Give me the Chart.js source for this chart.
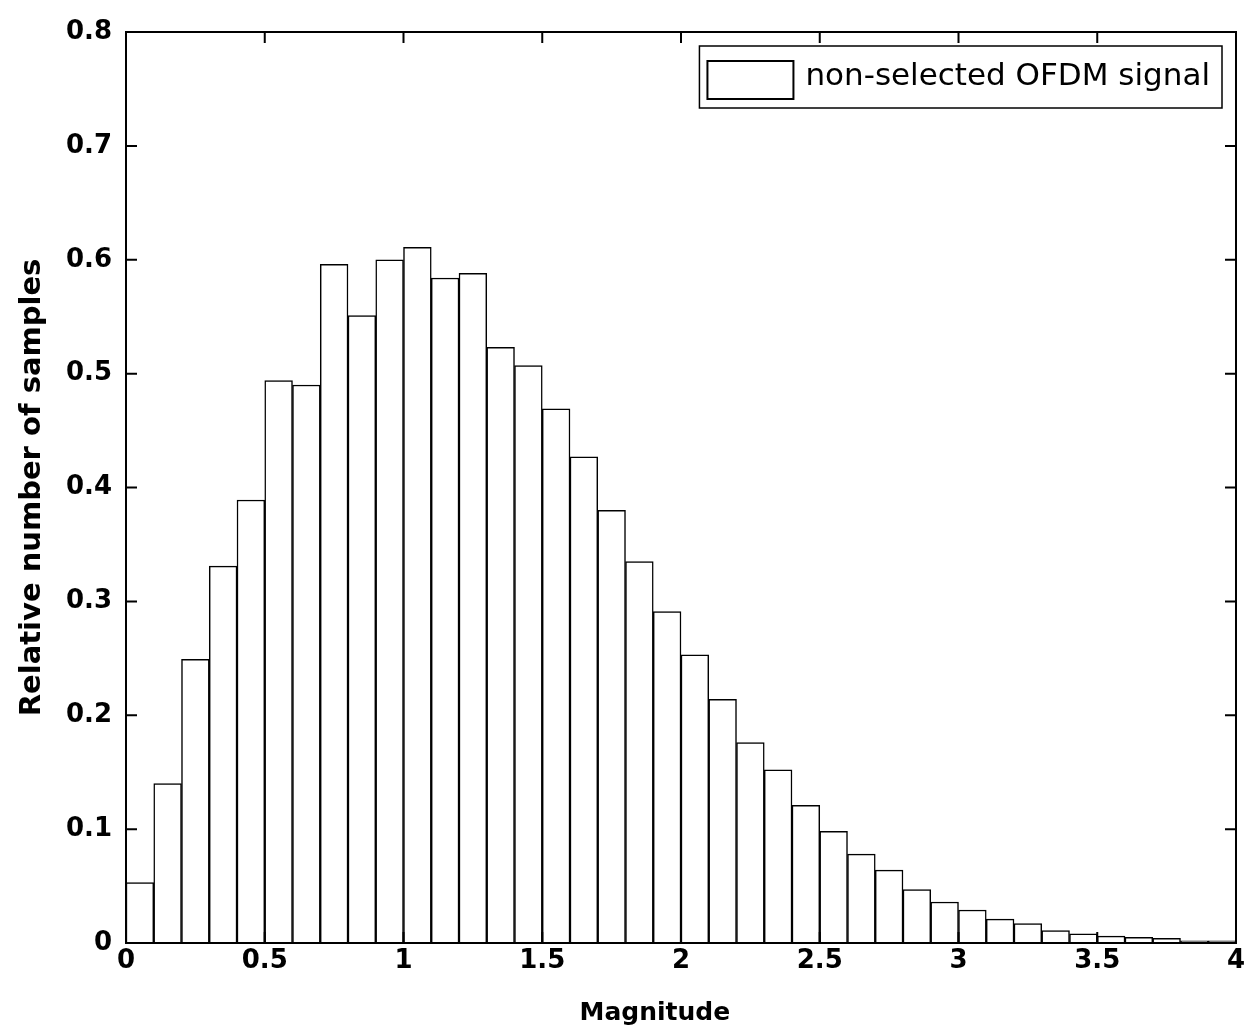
<!DOCTYPE html>
<html>
<head>
<meta charset="utf-8">
<script src="https://cdn.jsdelivr.net/npm/chart.js@4/dist/chart.umd.min.js"></script>
<style>
  html, body { margin: 0; padding: 0; background: #fff; }
  #wrap { width: 1250px; height: 1036px; }
</style>
</head>
<body>
<div id="wrap"><canvas id="histChart" width="1250" height="1036"></canvas></div>
<script>
// histogram of |x| for the non-selected OFDM signal, bin width 0.1
const binCenters = [
    0.05, 0.15, 0.25, 0.35, 0.45, 0.55, 0.65, 0.75, 0.85, 0.95,
    1.05, 1.15, 1.25, 1.35, 1.45, 1.55, 1.65, 1.75, 1.85, 1.95,
    2.05, 2.15, 2.25, 2.35, 2.45, 2.55, 2.65, 2.75, 2.85, 2.95,
    3.05, 3.15, 3.25, 3.35, 3.45, 3.55, 3.65, 3.75, 3.85, 3.95
];
const relSamples = [
    0.053, 0.140, 0.249, 0.331, 0.389, 0.494, 0.490, 0.596, 0.551, 0.600,
    0.611, 0.584, 0.588, 0.523, 0.507, 0.469, 0.427, 0.380, 0.335, 0.291,
    0.253, 0.214, 0.176, 0.152, 0.121, 0.098, 0.078, 0.064, 0.047, 0.036,
    0.029, 0.021, 0.017, 0.011, 0.008, 0.006, 0.005, 0.004, 0.002, 0.002
];
const xTickValues = [0, 0.5, 1, 1.5, 2, 2.5, 3, 3.5, 4];
const xTickLabels = ['0', '0.5', '1', '1.5', '2', '2.5', '3', '3.5', '4'];
const yTickValues = [0, 0.1, 0.2, 0.3, 0.4, 0.5, 0.6, 0.7, 0.8];
const yTickLabels = ['0', '0.1', '0.2', '0.3', '0.4', '0.5', '0.6', '0.7', '0.8'];
const seriesLabel = 'non-selected OFDM signal';

const tickFont = { family: 'DejaVu Sans', size: 26, weight: 'bold' };

// matlab style axes box with inward ticks on all four sides
const axesBox = {
    id: 'axesBox',
    afterDatasetsDraw(chart) {
        const { ctx, chartArea: a, scales: { x, y } } = chart;
        const len = 11;
        ctx.save();
        ctx.strokeStyle = '#000';
        ctx.lineWidth = 2;
        ctx.strokeRect(a.left, a.top, a.right - a.left, a.bottom - a.top);
        ctx.beginPath();
        xTickValues.forEach(v => {
            const px = x.getPixelForValue(v);
            ctx.moveTo(px, a.bottom); ctx.lineTo(px, a.bottom - len);
            ctx.moveTo(px, a.top); ctx.lineTo(px, a.top + len);
        });
        yTickValues.forEach(v => {
            const py = y.getPixelForValue(v);
            ctx.moveTo(a.left, py); ctx.lineTo(a.left + len, py);
            ctx.moveTo(a.right, py); ctx.lineTo(a.right - len, py);
        });
        ctx.stroke();
        ctx.restore();
    }
};

// legend box in the upper right corner of the axes
const legendBox = {
    id: 'legendBox',
    afterDatasetsDraw(chart) {
        const { ctx, chartArea: a } = chart;
        const ds = chart.data.datasets[0];
        ctx.save();
        ctx.font = '31px "DejaVu Sans"';
        const tw = ctx.measureText(ds.label).width;
        const right = a.right - 14;
        const top = a.top + 14;
        const h = 62;
        const w = 8 + 86 + 12 + tw + 12;
        const left = right - w;
        ctx.fillStyle = '#fff';
        ctx.fillRect(left, top, w, h);
        ctx.strokeStyle = '#000';
        ctx.lineWidth = 1.5;
        ctx.strokeRect(left, top, w, h);
        // swatch
        ctx.lineWidth = 2;
        ctx.strokeRect(left + 8, top + 15, 86, 38);
        ctx.fillStyle = '#000';
        ctx.textBaseline = 'middle';
        ctx.fillText(ds.label, left + 8 + 86 + 12, top + 31);
        ctx.restore();
    }
};

const ctx = document.getElementById('histChart').getContext('2d');
new Chart(ctx, {
    type: 'bar',
    data: {
        datasets: [{
            label: seriesLabel,
            data: binCenters.map((c, i) => ({ x: c, y: relSamples[i] })),
            backgroundColor: '#ffffff',
            borderColor: '#000000',
            borderWidth: 1.5,
            barPercentage: 1,
            categoryPercentage: 1
        }]
    },
    options: {
        responsive: false,
        animation: false,
        events: [],
        layout: { padding: { left: 0, right: 14, top: 32, bottom: 0 } },
        plugins: {
            legend: { display: false },
            tooltip: { enabled: false }
        },
        scales: {
            x: {
                type: 'linear',
                min: 0,
                max: 4,
                offset: false,
                grid: { display: false, drawTicks: false },
                border: { display: false },
                ticks: {
                    stepSize: 0.5,
                    autoSkip: false,
                    maxRotation: 0,
                    padding: 3,
                    color: '#000',
                    font: tickFont,
                    callback: (v, i) => xTickLabels[i]
                },
                title: {
                    display: true,
                    // trailing spaces nudge the centred title left, as in the original
                    text: 'Magnitude      ',
                    color: '#000',
                    font: { family: 'DejaVu Sans', size: 25, weight: 'bold' },
                    padding: { top: 0, bottom: 8 }
                },
                afterFit(scale) { scale.height = 93; }
            },
            y: {
                min: 0,
                max: 0.8,
                grid: { display: false, drawTicks: false },
                border: { display: false },
                ticks: {
                    stepSize: 0.1,
                    padding: 14,
                    color: '#000',
                    font: tickFont,
                    callback: (v, i) => yTickLabels[i]
                },
                title: {
                    display: true,
                    text: 'Relative number of samples',
                    color: '#000',
                    font: { family: 'DejaVu Sans', size: 29, weight: 'bold' },
                    padding: { top: 15, bottom: 0 }
                },
                afterFit(scale) { scale.width = 126; }
            }
        }
    },
    plugins: [axesBox, legendBox]
});
</script>
</body>
</html>
